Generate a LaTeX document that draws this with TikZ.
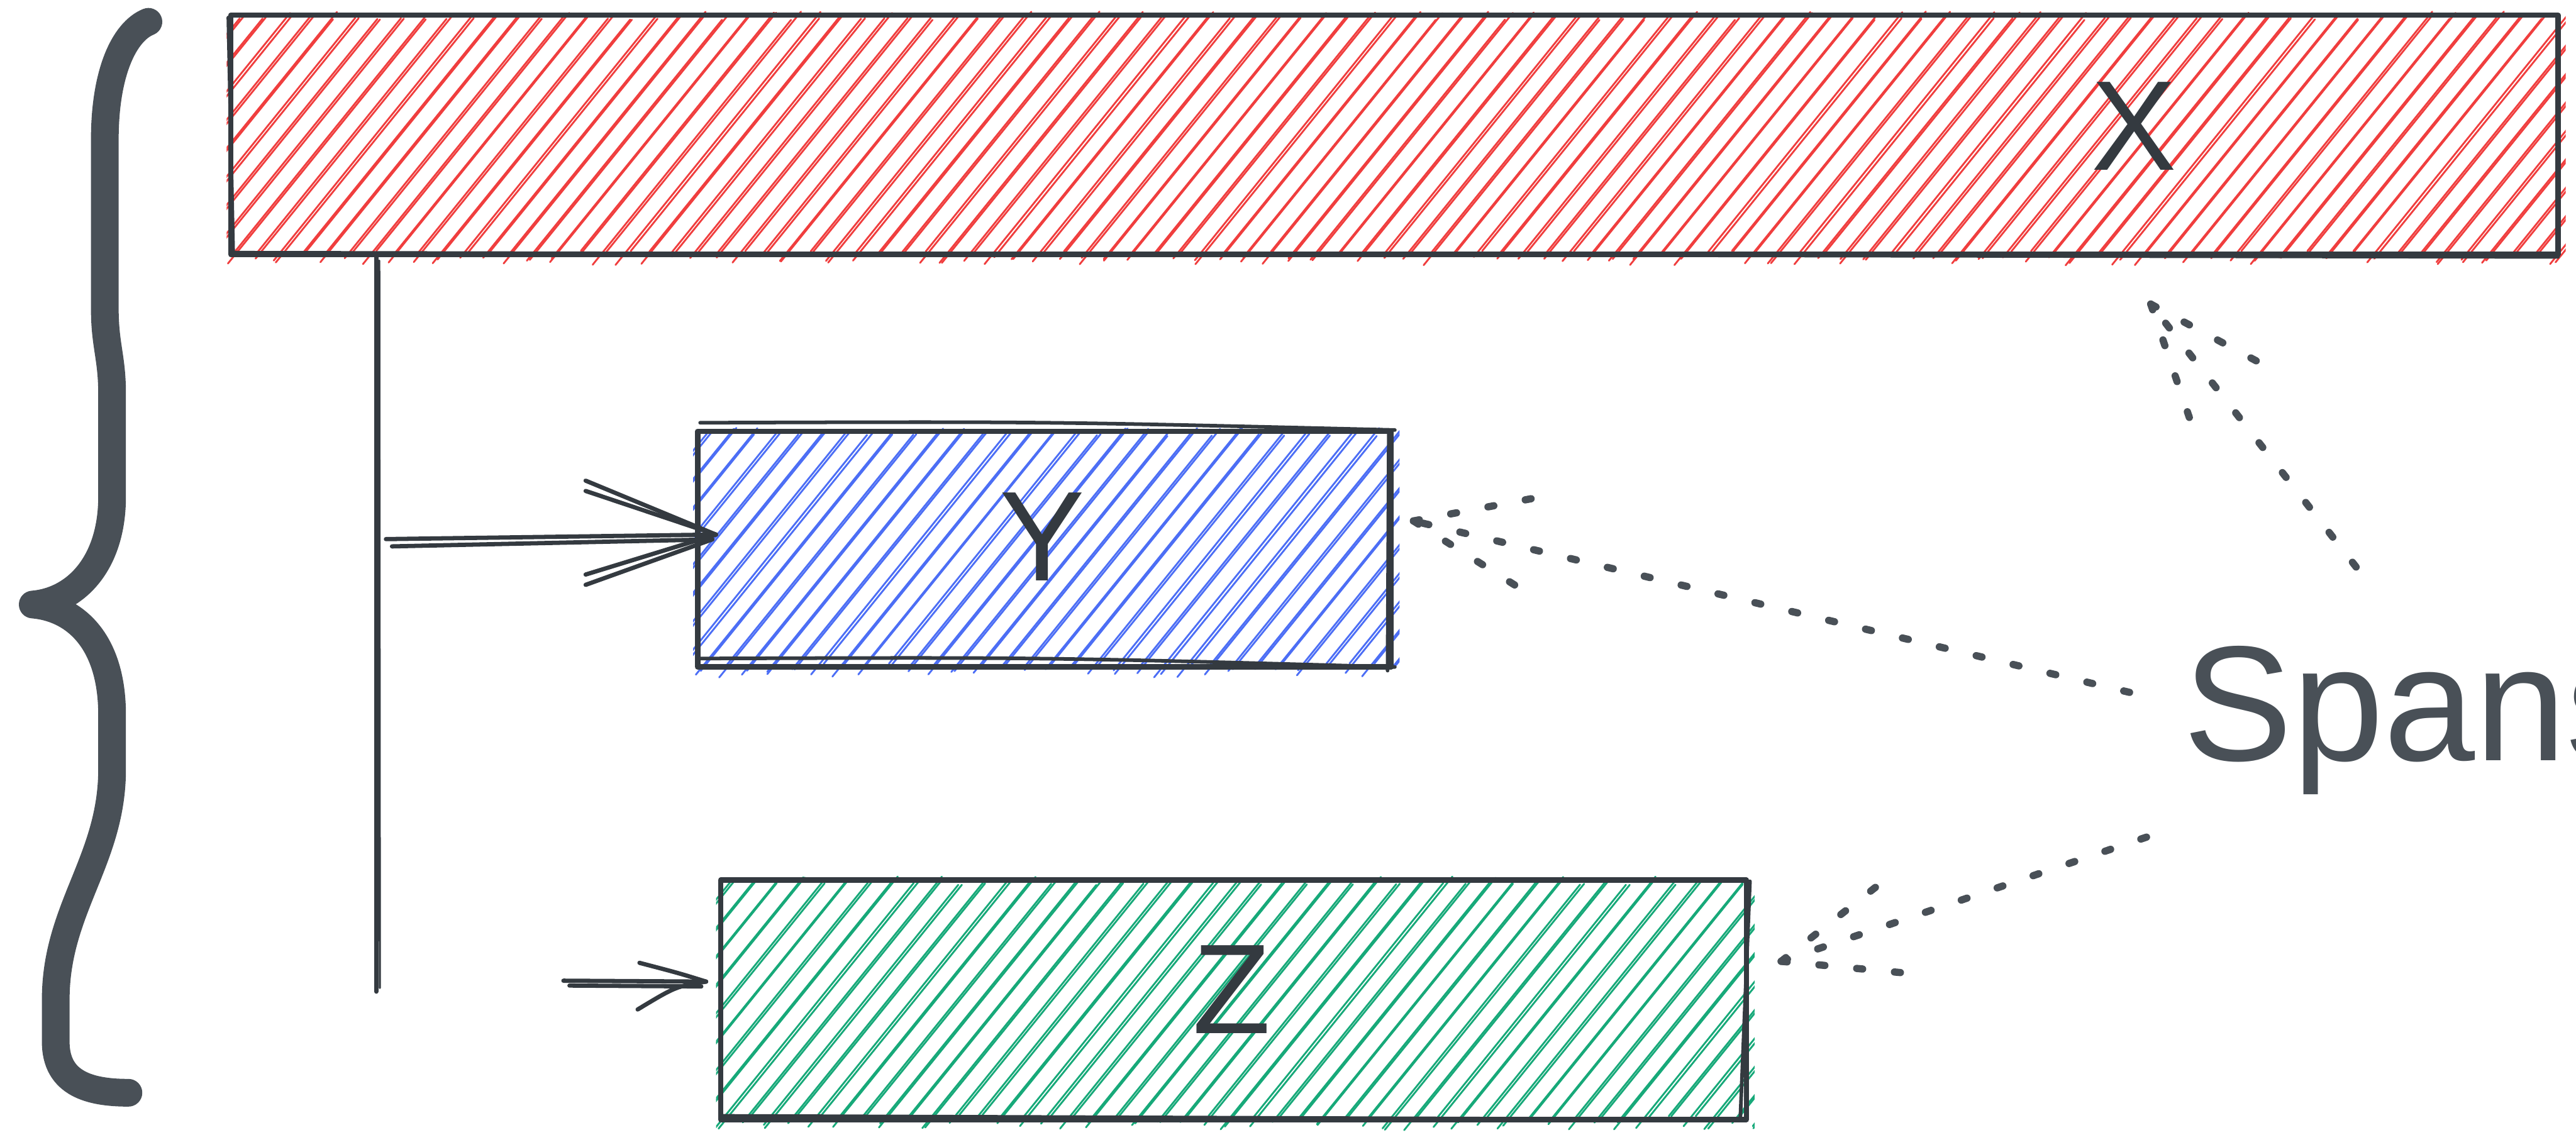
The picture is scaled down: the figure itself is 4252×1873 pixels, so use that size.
\documentclass[tikz,border=0pt]{standalone}
\usepackage{fontspec}
\setmainfont{Liberation Sans}
\usetikzlibrary{calc}
\definecolor{ink}{HTML}{343A40}
\definecolor{soft}{HTML}{495057}
\definecolor{hred}{HTML}{F03E3E}
\definecolor{hblue}{HTML}{4C6EF5}
\definecolor{hgreen}{HTML}{17A979}
% hatch fill: x1 y1 x2 y2 colour (pixel units, y downwards)
\newcommand\hatchfill[5]{%
  \begin{scope}
    \clip (#1-8,#2-40) rectangle (#3+14,#4+40);
    \pgfmathsetmacro\hatchH{#4-#2}
    \pgfmathsetmacro\hatchSA{#1-\hatchH*0.81-20}
    \pgfmathsetmacro\hatchSB{\hatchSA+38}
    \pgfmathsetmacro\hatchSE{#3+30}
    \foreach \s in {\hatchSA,\hatchSB,...,\hatchSE} {
      \pgfmathsetmacro\hatchRa{rnd*24-6}
      \pgfmathsetmacro\hatchRb{rnd*14-8}
      \draw[hline,#5] ({\s-\hatchRa*0.81},{#4+\hatchRa}) -- ({\s+(\hatchH+\hatchRb)*0.81},{#2-\hatchRb});
      \pgfmathsetmacro\hatchDx{2+rnd*5}
      \pgfmathsetmacro\hatchRa{rnd*24-6}
      \pgfmathsetmacro\hatchRb{rnd*14-8}
      \draw[hline,#5] ({\s+\hatchDx-\hatchRa*0.81},{#4+\hatchRa}) -- ({\s+\hatchDx+(\hatchH+\hatchRb)*0.81},{#2-\hatchRb});
    }
  \end{scope}}
\begin{document}
\begin{tikzpicture}[x=0.01cm, y=-0.01cm,
  hline/.style={line width=0.85pt, line cap=round},
  boxnode/.style={draw=ink, line width=2.5pt, inner sep=0pt, outer sep=0pt, line join=round},
  sketch/.style={draw=ink, line width=1.7pt, line cap=round},
  conn/.style={draw=ink, line width=2pt, line cap=round, line join=round},
  dashline/.style={draw=soft, line width=3.4pt, line cap=round, dash pattern=on 2.8pt off 15pt},
  lab/.style={font=\fontsize{60}{60}\selectfont, text=ink, inner sep=0pt},
  spanslab/.style={font=\fontsize{77}{77}\selectfont, text=soft, inner sep=0pt},
  brace/.style={draw=soft, line width=13pt, line cap=round, line join=round}]
\useasboundingbox (0,0) rectangle (4252,1873);
\clip (0,0) rectangle (4252,1873);
\pgfmathsetseed{11}

% hatched fills
\hatchfill{382}{25}{4221}{420}{hred}
\hatchfill{1152}{712}{2296}{1101}{hblue}
\hatchfill{1190}{1453}{2882}{1848}{hgreen}

% boxes
\node[boxnode, minimum width=38.39cm, minimum height=3.95cm] (X) at (2301.5,222.5) {};
\node[boxnode, minimum width=11.44cm, minimum height=3.89cm] (Y) at (1724,906.5) {};
\node[boxnode, minimum width=16.92cm, minimum height=3.95cm] (Z) at (2036,1650.5) {};

% sketchy second strokes
\draw[sketch] ($(X.north west)+(-4,4)$) -- ($(X.south west)+(4,-2)$);
\draw[sketch] ($(X.south west)+(0,-3)$) -- ($(X.south east)+(0,4)$);
\draw[sketch] ($(Y.north west)+(4,-14)$) .. controls ($(Y.north)+(0,-16)$) .. ($(Y.north east)+(6,-2)$);
\draw[sketch] ($(Y.south west)+(4,-14)$) .. controls ($(Y.south)+(0,-16)$) .. ($(Y.south east)+(6,0)$);
\draw[sketch] ($(Y.north east)+(-4,4)$) -- ($(Y.south east)+(-6,6)$);
\draw[sketch] ($(Z.south west)+(0,-6)$) -- ($(Z.south east)+(-20,0)$);
\draw[sketch] ($(Z.north east)+(6,2)$) -- ($(Z.south east)+(-10,0)$);

% labels
\node[lab] (xlab) at (3522,208) {X};
\node[lab] (ylab) at (1720,886) {Y};
\node[lab] (zlab) at (2033,1634) {Z};
\node[spanslab, anchor=base west] (spans) at (3603,1256) {Spans};

% brace
\draw[brace] (245,36) .. controls (205,52) and (173,120) .. (173,230)
  -- (173,510)
  .. controls (173,570) and (185,590) .. (185,650)
  -- (185,820)
  .. controls (185,930) and (125,992) .. (54,998)
  .. controls (125,1004) and (185,1060) .. (185,1180)
  -- (185,1270)
  .. controls (185,1420) and (92,1500) .. (92,1650)
  -- (92,1720)
  .. controls (92,1790) and (150,1804) .. (212,1804);

% vertical line
\coordinate (vbot) at (621,1637);
\draw[conn] (vbot |- X.south) -- (vbot);
\draw[conn, line width=1pt] ($(vbot |- X.south)+(5,10)$) -- ($(vbot)+(6,-6)$);

% arrow to Y
\coordinate (ystart) at (637,890);
\coordinate (ytip) at ($(Y.west)+(30,-24)$);
\draw[conn] (ystart) -- (ytip);
\draw[conn] ($(ystart)+(10,12)$) -- ($(ytip)+(-6,8)$);
\draw[conn] (ytip) -- ++(-215,-89);
\draw[conn] (ytip) -- ++(-215,-72);
\draw[conn] (ytip) -- ++(-215,66);
\draw[conn] ($(ytip)+(-6,8)$) -- ++(-209,75);

% arrow to Z
\coordinate (zstart) at (930,1619);
\coordinate (ztip) at ($(Z.west)+(-24,-30)$);
\draw[conn] (zstart) -- (ztip);
\draw[conn] ($(zstart)+(10,8)$) -- ($(ztip)+(-8,8)$);
\draw[conn] (ztip) .. controls ($(ztip)+(-45,-14)$) .. ($(ztip)+(-110,-31)$);
\draw[conn] (ztip) .. controls ($(ztip)+(-50,8)$) .. ($(ztip)+(-113,46)$);

% dashed arrows from Spans
\coordinate (s1) at (3889,936);
\coordinate (t1) at (3550,502);
\draw[dashline] (s1) -- (t1);
\draw[dashline] (t1) -- ++(184,99);
\draw[dashline] (t1) -- ++(65,191);

\coordinate (s2) at (3515,1143);
\coordinate (t2) at (2333,860);
\draw[dashline] (s2) -- (t2);
\draw[dashline] (t2) -- ++(212,-40);
\draw[dashline] (t2) -- ++(177,112);

\coordinate (s3) at (3543,1382);
\coordinate (t3) at (2940,1587);
\draw[dashline] (s3) -- (t3);
\draw[dashline] (t3) -- ++(158,-124);
\draw[dashline] (t3) -- ++(212,20);
\end{tikzpicture}
\end{document}
